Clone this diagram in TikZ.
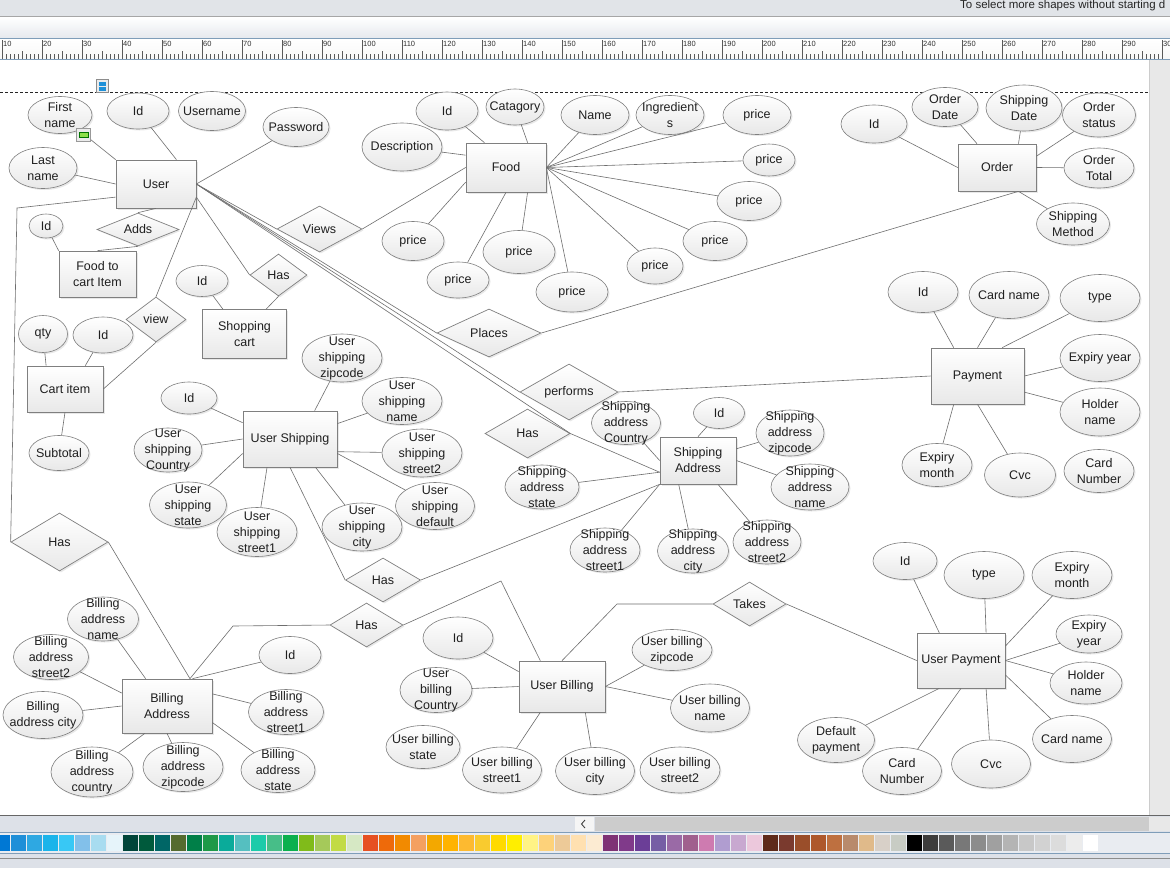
\documentclass[tikz,border=0pt]{standalone}
\usepackage{fontspec}
\setmainfont{Liberation Sans}
\usetikzlibrary{shapes.geometric,shadows}
\definecolor{bordc}{HTML}{7F7F7F}
\definecolor{linec}{HTML}{6E6E6E}
\definecolor{txtc}{HTML}{1F1F1F}
\definecolor{chromebg}{HTML}{E1E4E8}
\definecolor{chromebar}{HTML}{E6E9EE}
\definecolor{rulerline}{HTML}{7F9DB9}
\definecolor{sidegray}{HTML}{E8E8E8}
\definecolor{barbg}{HTML}{DDE1E8}
\definecolor{trackc}{HTML}{CCCCCC}
\definecolor{palbg}{HTML}{E9ECF1}
\definecolor{iconblue}{HTML}{1E90D8}
\definecolor{icongreen}{HTML}{8EE04A}

\begin{document}
\begin{tikzpicture}[x=1pt, y=-1pt,
  txt/.style={align=center, font=\fontsize{12.5}{16}\selectfont, text=txtc, inner sep=0pt},
  shd/.style={drop shadow={shadow xshift=1.5pt, shadow yshift=-1.5pt, opacity=0.18}},
  ent/.style 2 args={txt, rectangle, draw=bordc, line width=0.7pt, top color=white, bottom color=black!9,
    minimum width=#1pt, minimum height=#2pt, shd},
  rel/.style 2 args={txt, diamond, aspect=2.5, draw=bordc, line width=0.7pt, top color=white, bottom color=black!9,
    minimum width=#1pt, minimum height=#2pt, shd},
  attr/.style 2 args={ellipse, draw=bordc, line width=0.6pt, top color=white, bottom color=black!9,
    minimum width=#1pt, minimum height=#2pt, inner sep=0pt, shd},
  conn/.style={draw=linec, line width=0.6pt},
  rulertick/.style={draw=black!65, line width=0.5pt},
  rulertxt/.style={font=\fontsize{7.5}{8}\selectfont, text=black!80, inner sep=0pt}]
  \useasboundingbox (0,0) rectangle (1170,868);
  \clip (0,0) rectangle (1170,868);

  % window chrome
  \fill[chromebg] (0,0) rectangle (1170,16);
  \node[anchor=west, font=\fontsize{11.5}{12}\selectfont, text=black!85, inner sep=0pt] (status) at (960,5.5)
    {To select more shapes without starting d};
  \draw[black!35] (0,16) -- (1170,16);
  \shade[top color=white, bottom color=chromebar] (0,17) rectangle (1170,38);
  \draw[rulerline] (0,38.5) -- (1170,38.5);
  \shade[top color=white, bottom color=black!3] (0,39) rectangle (1170,59);
  \foreach \v in {8,...,300} {
    \pgfmathtruncatemacro{\rx}{4*\v-38}
    \pgfmathtruncatemacro{\mten}{mod(\v,10)}
    \pgfmathtruncatemacro{\mfive}{mod(\v,5)}
    \ifnum\mten=0
      \draw[rulertick] (\rx,40) -- (\rx,59);
      \node[rulertxt, anchor=north west] (rl\v) at (\rx+1,41.5) {\v};
    \else\ifnum\mfive=0
      \draw[rulertick] (\rx,51) -- (\rx,59);
    \else
      \draw[rulertick] (\rx,54) -- (\rx,59);
    \fi\fi
  }
  \draw[rulerline] (0,59.5) -- (1170,59.5);
  \fill[white] (0,60) rectangle (1149,815);
  \fill[sidegray] (1149,60) rectangle (1170,815);
  \draw[black!20] (1149,60) -- (1149,815);
  \draw[black!85, dash pattern=on 3pt off 2pt] (0,92) -- (1148,92);

  \draw[black!45, fill=black!8] (96.5,79.5) rectangle (108.5,92.5);
  \fill[iconblue] (99,82) rectangle (106,85.5);
  \fill[iconblue] (99,87) rectangle (106,90.5);

  \draw[black!60, line width=1pt] (0,815) -- (1170,815);
  \fill[barbg] (0,816) rectangle (1170,832);
  \fill[black!4] (575,817) rectangle (594,831);
  \draw[black!75, line width=0.9pt] (585,820) -- (581.5,824) -- (585,828);
  \fill[trackc] (595,817) rectangle (1149,831);
  \fill[sidegray] (1149,817) rectangle (1170,831);
  \draw[rulerline] (0,832.5) -- (1170,832.5);
  \fill[palbg] (0,833) rectangle (1170,853);
  \foreach \hex [count=\i from 0] in {0078D4,1E8FD8,2EA8E2,1AB4EA,38C8F5,82C0EA,A8DCF0,E6F4FA,
      00453A,005A3C,006666,556B2F,007F48,1E9948,0AAB9A,55BFC0,1CCBAA,47BE88,0BB04E,80BB1A,A5C95A,C2DB45,D6E8C4,
      E65022,EE6A0A,F28A00,F4A060,F3A800,FFB300,FDBA30,F9CB2F,FFDA00,FFEE00,FFF385,FDD27A,EDCA98,FFE0B0,FCEBD2,
      7E3275,803A8A,6B3E97,765EA5,9A6AA6,A0608E,CE7BB0,B09DD0,C8A8D0,ECC8DC,
      5E2A1A,7A3A2E,9A4E2A,AE582C,BE7040,B88A6C,E0BA8A,D8D0C8,C8CCC4,
      000000,3C3C3C,5A5A5A,787878,8C8C8C,A0A0A0,B4B4B4,C8C8C8,D2D2D2,DCDCDC,ECECEC,FFFFFF} {
    \definecolor{pc}{HTML}{\hex}
    \fill[pc] ({-5+16*\i},835) rectangle ++(15,16);
  }
  \draw[rulerline] (0,853.5) -- (1170,853.5);
  \fill[barbg] (0,854) rectangle (1170,868);
  \draw[black!45] (0,858) -- (1170,858);

  % entities
  \node[ent={80}{48}] (usr) at (156,184) {User};
  \node[ent={80}{49}] (food) at (506,167.5) {Food};
  \node[ent={78}{47}] (ord) at (997,167.5) {Order};
  \node[ent={77}{46}] (ftc) at (97.5,274) {Food to\\cart Item};
  \node[ent={84}{49}] (shop) at (244.5,334) {Shopping\\cart};
  \node[ent={76}{46}] (cart) at (65,389) {Cart item};
  \node[ent={94}{56}] (ushp) at (290,439) {User Shipping};
  \node[ent={93}{56}] (pay) at (977.5,376) {Payment};
  \node[ent={76}{47}] (sadr) at (698,460.5) {Shipping\\Address};
  \node[ent={90}{54}] (bil) at (167,706) {Billing\\Address};
  \node[ent={86}{51}] (ubil) at (562,686.5) {User Billing};
  \node[ent={88}{55}] (upay) at (961,660.5) {User Payment};

  % relationships
  \node[rel={82}{33}] (adds) at (138,229.5) {Adds};
  \node[rel={60}{45}] (view) at (156,319.5) {view};
  \node[rel={57}{42}] (hass) at (278.5,275) {Has};
  \node[rel={85}{46}] (views) at (319.5,229) {Views};
  \node[rel={104}{48}] (places) at (489,333) {Places};
  \node[rel={98}{56}] (perf) at (569,392) {performs};
  \node[rel={85}{49}] (hassa) at (527.5,433.5) {Has};
  \node[rel={75}{44}] (hasus) at (383,580) {Has};
  \node[rel={97}{58}] (hasl) at (59.5,542) {Has};
  \node[rel={73}{44}] (hasb) at (366.5,625) {Has};
  \node[rel={73}{44}] (takes) at (749.5,604) {Takes};

  % attributes
  \foreach \nm/\x/\y/\ew/\eh/\anc/\lbl in {
      usrfn/60/115/64/37/north west/First\\name, usrid/138/111/62/36/50/Id,
      usrpw/296/127/66/39/east/Password, usrln/43/168/68/41/west/Last\\name,
      fdid/447/111/62/38/131/Id, fdcat/515/107/58/36/49/Catagory, fddesc/402/147/80/48/163/Description,
      fdname/595/115/68/39/east/Name, fding/670/115/68/39/east/Ingredient\\s,
      fdp1/757/115/68/39/east/price, fdp2/769/160/52/32/east/price, fdp3/749/201/64/39/east/price,
      fdp4/715/241/64/39/east/price, fdp5/655/266/56/36/east/price, fdp6/572/292/72/40/east/price,
      fdp7/519/252/72/43/-49/price, fdp8/458/280/62/36/south/price, fdp9/413/241/62/39/200/price,
      ftcid/46/226/34/24/north west/Id, shopid/202/281/52/31/131/Id,
      cartqty/43/334/49/37/129/qty, cartid/103/335/60/36/49/Id, cartsub/59/453/60/35/south/Subtotal,
      ordid/874/124/66/38/west/Id, orddt/945/107/66/39/130/Order\\Date, ordsd/1024/108/76/46/48/Shipping\\Date,
      ordst/1099/115/73/44/16/Order\\status, ordtot/1099/168/70/40/east/Order\\Total,
      ordsm/1073/224/73/42/-48/Shipping\\Method,
      payid/923/292/70/41/130/Id, paycn/1009/295/80/47/north/Card name, paytp/1100/298/80/47/49/type,
      payey/1100/358/80/47/east/Expiry year, payhn/1100/412/80/48/-19/Holder\\name,
      payem/937/465/70/43/230/Expiry\\month, paycvc/1020/475/71/44/south/Cvc,
      sadid/719/413/51/31/north/Id, sadcty/626/423/69/43/west/Shipping\\address\\Country,
      sadzip/790/433/68/46/17/Shipping\\address\\zipcode, sadnm/810/487/78/46/east/Shipping\\address\\name,
      sadst/542/487/74/44/197/Shipping\\address\\state, sads1/605/550/70/44/south west/Shipping\\address\\street1,
      sadcity/693/551/71/44/231/Shipping\\address\\city, sads2/767/542/68/44/-50/Shipping\\address\\street2,
      ushid/189/398/56/32/161/Id, ushzip/342/358/80/48/49/User\\shipping\\zipcode,
      ushnm/402/401/80/47/18/User\\shipping\\name, ushs2/422/453/80/48/-15/User\\shipping\\street2,
      ushdef/435/506/79/47/-17/User\\shipping\\default, ushcity/362/527/80/48/-48/User\\shipping\\city,
      ushs1/257/532/80/49/231/User\\shipping\\street1, ushst/188/505/77/46/197/User\\shipping\\state,
      ushcty/168/450/68/44/west/User\\shipping\\Country,
      bilnm/103/619/71/44/128/Billing\\address\\name, bils2/51/657/75/45/164/Billing\\address\\street2,
      bilcity/43/715/80/47/west/Billing\\address city, bilctry/92/772/82/50/231/Billing\\address\\country,
      bilzip/183/767/80/49/south/Billing\\address\\zipcode, bilst/278/770/74/45/-20/Billing\\address\\state,
      bils1/286/712/75/45/15/Billing\\address\\street1, bilid/290/655/62/37/47/Id,
      ubid/458/638/70/42/161/Id, ubcty/436/690/72/45/west/User\\billing\\Country,
      ubs1/502/770/79/46/230/User billing\\street1, ubcity/595/771/79/47/-48/User billing\\city,
      ubzip/672/650/80/41/east/User billing\\zipcode, ubnm/710/708/79/48/east/User billing\\name,
      upid/905/561/64/37/128/Id, uptp/984/575/80/47/48/type, upem/1072/575/80/47/18/Expiry\\month,
      upey/1089/634/66/38/east/Expiry\\year, uphn/1086/683/72/42/east/Holder\\name,
      upcn/1072/739/79/47/-18/Card name, upcvc/991/764/79/48/-48/Cvc,
      upcnum/902/771/79/47/south/Card\\Number, updef/836/740/77/45/232/Default\\payment} {
    \node[attr={\ew}{\eh}, label={[txt]center:\lbl}] (\nm) at (\x,\y) {};
  }
  \node[attr={67}{39}, label={[txt]center:Username}] (usrun) at (212,111) {};
  \node[attr={70}{43}, label={[txt]center:Card\\Number}] (paycnum) at (1099,471) {};
  \node[attr={74}{43}, label={[txt]center:User billing\\state}] (ubst) at (423,747) {};
  \node[attr={80}{46}, label={[txt]center:User billing\\street2}] (ubs2) at (680,770) {};

  % attribute links
  \foreach \nm/\ent/\anc in {usrfn/usr/north west, usrid/usr/50, usrpw/usr/east, usrln/usr/west,
      fdid/food/131, fdcat/food/49, fddesc/food/163, fdname/food/east, fding/food/east,
      fdp1/food/east, fdp2/food/east, fdp3/food/east, fdp4/food/east, fdp5/food/east, fdp6/food/east,
      fdp7/food/-49, fdp8/food/south, fdp9/food/200,
      ftcid/ftc/north west, shopid/shop/131, cartqty/cart/129, cartid/cart/49, cartsub/cart/south,
      ordid/ord/west, orddt/ord/130, ordsd/ord/48, ordst/ord/16, ordtot/ord/east, ordsm/ord/-48,
      payid/pay/130, paycn/pay/north, paytp/pay/49, payey/pay/east, payhn/pay/-19, payem/pay/230, paycvc/pay/south,
      sadid/sadr/north, sadcty/sadr/west, sadzip/sadr/17, sadnm/sadr/east, sadst/sadr/197,
      sads1/sadr/south west, sadcity/sadr/231, sads2/sadr/-50,
      ushid/ushp/161, ushzip/ushp/49, ushnm/ushp/18, ushs2/ushp/-15, ushdef/ushp/-17,
      ushcity/ushp/-48, ushs1/ushp/231, ushst/ushp/197, ushcty/ushp/west,
      bilnm/bil/128, bils2/bil/164, bilcity/bil/west, bilctry/bil/231, bilzip/bil/south,
      bilst/bil/-20, bils1/bil/15, bilid/bil/47,
      ubid/ubil/161, ubcty/ubil/west, ubs1/ubil/230, ubcity/ubil/-48, ubzip/ubil/east, ubnm/ubil/east,
      upid/upay/128, uptp/upay/48, upem/upay/18, upey/upay/east, uphn/upay/east,
      upcn/upay/-18, upcvc/upay/-48, upcnum/upay/south, updef/upay/232} {
    \draw[conn] (\nm) -- (\ent.\anc);
  }

  % relationship links
  \coordinate (bendA) at (17,208);
  \coordinate (bendB) at (233,626);
  \coordinate (bendC) at (501,581);
  \coordinate (bendD) at (617,604);
  \draw[conn] (usr.198) -- (bendA) -- (hasl.west);
  \draw[conn] (hasl.east) -- (bil.50);
  \draw[conn] (usr.south) -- (adds.north);
  \draw[conn] (adds.south) -- (ftc.north);
  \draw[conn] (usr.-18) -- (view.north);
  \draw[conn] (view.south) -- (cart.east);
  \draw[conn] (usr.-18) -- (hass.west);
  \draw[conn] (hass.south) -- (shop.49);
  \draw[conn] (usr.east) -- (views.west);
  \draw[conn] (views.east) -- (food.west);
  \draw[conn] (usr.east) -- (places.west);
  \draw[conn] (places.east) -- (ord.-48);
  \draw[conn] (usr.east) -- (perf.west);
  \draw[conn] (perf.east) -- (pay.west);
  \draw[conn] (usr.east) -- (hassa.east);
  \draw[conn] (hassa.east) -- (sadr.197);
  \draw[conn] (ushp.south) -- (hasus.west);
  \draw[conn] (hasus.east) -- (sadr.south west);
  \draw[conn] (bil.50) -- (bendB) -- (hasb.west);
  \draw[conn] (hasb.east) -- (bendC) -- (ubil.130);
  \draw[conn] (ubil.north) -- (bendD) -- (takes.west);
  \draw[conn] (takes.east) -- (upay.west);

  \draw[black!40, fill=black!8] (76.5,128.5) rectangle (90.5,141.5);
  \draw[green!45!black, fill=icongreen] (79,132.5) rectangle (88,137);
\end{tikzpicture}
\end{document}
